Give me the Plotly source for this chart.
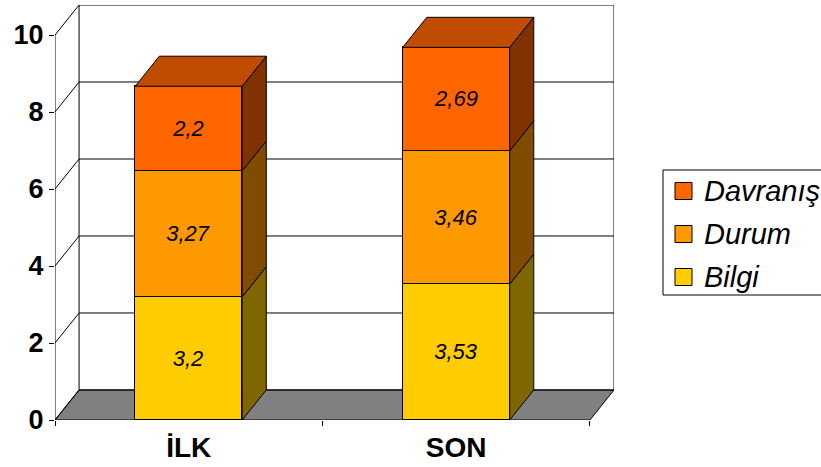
import plotly.graph_objects as go

categories = ["İLK", "SON"]
series_names = ["Bilgi", "Durum", "Davranış"]
bilgi = [3.2, 3.53]
durum = [3.27, 3.46]
davranis = [2.2, 2.69]
y_ticks = [0, 2, 4, 6, 8, 10]

front_colors = ["#FFCC00", "#FF9900", "#FF6600"]
side_colors = ["#806600", "#804C00", "#803300"]
top_color = "#C04C00"

FONT = "Liberation Sans, Arial, sans-serif"
DX, DY = 0.09, 0.78      # depth offset (data units)
BW = 0.4                 # bar width
xpos = [0.5, 1.5]
series_vals = [bilgi, durum, davranis]

W, H = 821, 467
ML, MR, MT, MB = 55, 207, 5, 47
PW, PH = W - ML - MR, H - MT - MB


def px_x(p):
    return (p - ML) / PW


def px_y(p):
    return (H - MB - p) / PH


fig = go.Figure()

# stacked front faces
for name, vals, col in zip(series_names, series_vals, front_colors):
    fig.add_trace(go.Bar(
        x=xpos, y=vals, width=BW, name=name, showlegend=False,
        marker=dict(color=col, line=dict(color="black", width=1)),
        text=[str(v).replace(".", ",") for v in vals], textposition="inside",
        insidetextanchor="middle", textangle=0,
        textfont=dict(family=FONT, size=22, style="italic", color="black"),
        hoverinfo="skip"))

# side faces and top face
bases = [0.0, 0.0]
for i, (name, vals) in enumerate(zip(series_names, series_vals)):
    xs, ys = [], []
    for j, xc in enumerate(xpos):
        b, t = bases[j], bases[j] + vals[j]
        xr = xc + BW / 2
        xs += [xr, xr + DX, xr + DX, xr, xr, None]
        ys += [b, b + DY, t + DY, t, b, None]
    fig.add_trace(go.Scatter(x=xs, y=ys, mode="lines", fill="toself",
                             fillcolor=side_colors[i], line=dict(color="black", width=1),
                             showlegend=False, hoverinfo="skip"))
    bases = [bases[j] + vals[j] for j in range(2)]

xs, ys = [], []
for j, xc in enumerate(xpos):
    T = bases[j]
    xl, xr = xc - BW / 2, xc + BW / 2
    xs += [xl, xr, xr + DX, xl + DX, xl, None]
    ys += [T, T, T + DY, T + DY, T, None]
fig.add_trace(go.Scatter(x=xs, y=ys, mode="lines", fill="toself", fillcolor=top_color,
                         line=dict(color="black", width=1), showlegend=False,
                         hoverinfo="skip"))

shapes = []
annotations = []
line_k = dict(color="black", width=1)
# floor
shapes.append(dict(type="path", layer="below",
                   path=f"M 0 0 L 2 0 L {2+DX} {DY} L {DX} {DY} Z",
                   fillcolor="#808080", line=line_k))
# back wall and left wall outlines + gridlines
for v in y_ticks:
    shapes.append(dict(type="path", layer="below",
                       path=f"M 0 {v} L {DX} {v+DY} L {2+DX} {v+DY}", line=line_k))
shapes.append(dict(type="line", layer="below", x0=DX, y0=DY, x1=DX, y1=10 + DY, line=line_k))
shapes.append(dict(type="line", layer="below", x0=2 + DX, y0=DY, x1=2 + DX, y1=10 + DY, line=line_k))
shapes.append(dict(type="line", layer="below", x0=0, y0=0, x1=0, y1=10, line=line_k))

# legend (drawn manually so it can run past the right edge like the original)
shapes.append(dict(type="rect", xref="paper", yref="paper",
                   x0=px_x(663), x1=px_x(840), y0=px_y(295), y1=px_y(170),
                   line=line_k, fillcolor="white"))
row_y = [191, 234, 277]
for k, idx in enumerate([2, 1, 0]):
    cy = row_y[k]
    shapes.append(dict(type="rect", xref="paper", yref="paper",
                       x0=px_x(675), x1=px_x(692), y0=px_y(cy + 8.5), y1=px_y(cy - 8.5),
                       line=line_k, fillcolor=front_colors[idx]))
    annotations.append(dict(xref="paper", yref="paper", x=px_x(702), y=px_y(cy),
                            xanchor="left", yanchor="middle", showarrow=False,
                            text=series_names[idx],
                            font=dict(family=FONT, size=29, style="italic", color="black")))

fig.update_layout(
    width=W, height=H,
    margin=dict(l=ML, r=MR, t=MT, b=MB),
    paper_bgcolor="white", plot_bgcolor="white",
    barmode="stack", bargap=0,
    shapes=shapes, annotations=annotations,
    showlegend=False,
    xaxis=dict(range=[0, 2 + DX], tickvals=xpos, ticktext=categories,
               showgrid=False, zeroline=False, showline=False, ticks="",
               ticklabelstandoff=8,
               tickfont=dict(family=FONT, size=28, weight="bold", color="black"),
               minor=dict(tickvals=[0, 1, 2], ticks="outside", ticklen=5,
                          tickcolor="black", tickwidth=1, showgrid=False),
               fixedrange=True),
    yaxis=dict(range=[0, 10 + DY], tickvals=y_ticks, showgrid=False, zeroline=False,
               showline=False, ticks="outside", ticklen=5, tickcolor="black",
               tickfont=dict(family=FONT, size=27, weight="bold", color="black"),
               fixedrange=True),
)

fig.write_html("out.html")
